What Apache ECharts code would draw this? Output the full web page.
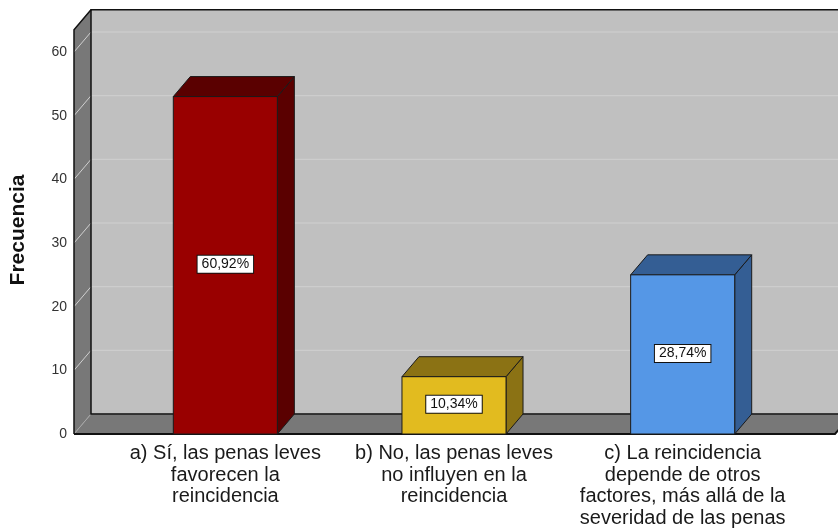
<!DOCTYPE html>
<html>
<head>
<meta charset="utf-8">
<script src="https://cdn.jsdelivr.net/npm/echarts@6/dist/echarts.min.js"></script>
<style>
  html, body { margin: 0; padding: 0; background: #fff; }
  #chart { width: 838px; height: 531px; }
</style>
</head>
<body>
<div id="chart"></div>
<script>
// categories and counts (N = 87)
var categories = [
    'a) Sí, las penas leves\nfavorecen la\nreincidencia',
    'b) No, las penas leves\nno influyen en la\nreincidencia',
    'c) La reincidencia\ndepende de otros\nfactores, más allá de la\nseveridad de las penas'
]
var counts = [53, 9, 25]
var percentLabels = ['60,92%', '10,34%', '28,74%']
var yTicks = [0, 10, 20, 30, 40, 50, 60]
var wallTop = 63.5

var frontColors = ['#990000', '#e2bb1f', '#5597e6']
var darkColors = ['#5a0000', '#8b7214', '#345e94']

// depth offset of the 3d look
var DX = 17, DY = -20
var FONT = '"Liberation Sans", Arial, sans-serif'

function renderWalls(params, api) {
    var cs = params.coordSys
    var xl = cs.x - 37
    var xr = cs.x + cs.width + 38
    var far = 900
    var y0 = api.coord([0, 0])[1]
    var yt = api.coord([0, wallTop])[1]
    var children = []
    // back wall
    children.push({ type: 'polygon', shape: { points: [[xl + DX, yt + DY], [far, yt + DY], [far, y0 + DY], [xl + DX, y0 + DY]] },
        style: { fill: '#c0c0c0' } })
    // left wall
    children.push({ type: 'polygon', shape: { points: [[xl, yt], [xl + DX, yt + DY], [xl + DX, y0 + DY], [xl, y0]] },
        style: { fill: '#787878' } })
    // floor
    children.push({ type: 'polygon', shape: { points: [[xl, y0], [xl + DX, y0 + DY], [far, y0 + DY], [xr + DX, y0 + DY], [xr, y0]] },
        style: { fill: '#787878' } })
    // grid lines
    yTicks.forEach(function (v) {
        var y = api.coord([0, v])[1]
        children.push({ type: 'polyline', shape: { points: [[xl, y], [xl + DX, y + DY], [far, y + DY]] },
            style: { stroke: v === 0 ? '#a8a8a8' : '#d0d0d0', lineWidth: 1, fill: null } })
    })
    // edges
    children.push({ type: 'polyline', shape: { points: [[far, yt + DY], [xl + DX, yt + DY], [xl + DX, y0 + DY], [far, y0 + DY]] },
        style: { stroke: '#111', lineWidth: 1.5, fill: null } })
    children.push({ type: 'polyline', shape: { points: [[xl + DX, yt + DY], [xl, yt], [xl, y0]] },
        style: { stroke: '#111', lineWidth: 1.5, fill: null } })
    children.push({ type: 'polyline', shape: { points: [[xl, y0], [xr, y0], [xr + DX, y0 + DY]] },
        style: { stroke: '#111', lineWidth: 2, fill: null } })
    return { type: 'group', children: children }
}

function renderBar(params, api) {
    var idx = api.value(0)
    var val = api.value(1)
    var top = api.coord([idx, val])
    var base = api.coord([idx, 0])
    var w = api.size([1, 0])[0] * 0.455
    var x0 = top[0] - w / 2, x1 = top[0] + w / 2
    var yt = top[1], yb = base[1]
    var front = frontColors[idx], dark = darkColors[idx]
    var edge = { stroke: '#1a1a1a', lineWidth: 1 }
    return {
        type: 'group',
        children: [
            { type: 'polygon', shape: { points: [[x1, yt], [x1 + DX, yt + DY], [x1 + DX, yb + DY], [x1, yb]] },
              style: Object.assign({ fill: dark }, edge) },
            { type: 'polygon', shape: { points: [[x0, yt], [x0 + DX, yt + DY], [x1 + DX, yt + DY], [x1, yt]] },
              style: Object.assign({ fill: dark }, edge) },
            { type: 'rect', shape: { x: x0, y: yt, width: w, height: yb - yt },
              style: Object.assign({ fill: front }, edge) },
            { type: 'text', x: top[0], y: (yt + yb) / 2 - 1,
              style: { text: percentLabels[idx], font: '14px ' + FONT, fill: '#111', align: 'center', verticalAlign: 'middle',
                       backgroundColor: '#fff', borderColor: '#111', borderWidth: 1, padding: [2, 4, 1, 4] } }
        ]
    }
}

var chart = echarts.init(document.getElementById('chart'))
var option = {
    animation: false,
    grid: { left: 110, right: 41, top: 52, bottom: 97 },
    xAxis: {
        type: 'category',
        data: categories,
        axisLine: { show: false },
        axisTick: { show: false },
        axisLabel: { interval: 0, margin: 9, fontSize: 20, lineHeight: 21.5, color: '#1a1a1a', fontFamily: FONT }
    },
    yAxis: {
        type: 'value',
        min: 0,
        max: 60,
        interval: 10,
        name: 'Frecuencia',
        nameLocation: 'middle',
        nameGap: 82,
        nameTextStyle: { fontSize: 21, fontWeight: 'bold', color: '#111', fontFamily: FONT, padding: [0, 0, 0, 26] },
        axisLine: { show: false },
        axisTick: { show: false },
        splitLine: { show: false },
        axisLabel: { margin: 44, fontSize: 14, color: '#333', fontFamily: FONT }
    },
    series: [
        { type: 'custom', renderItem: renderWalls, data: [[0, 0]], silent: true, clip: false },
        { type: 'custom', renderItem: renderBar, data: counts.map(function (c, i) { return [i, c] }), clip: false }
    ]
}
chart.setOption(option)
</script>
</body>
</html>
